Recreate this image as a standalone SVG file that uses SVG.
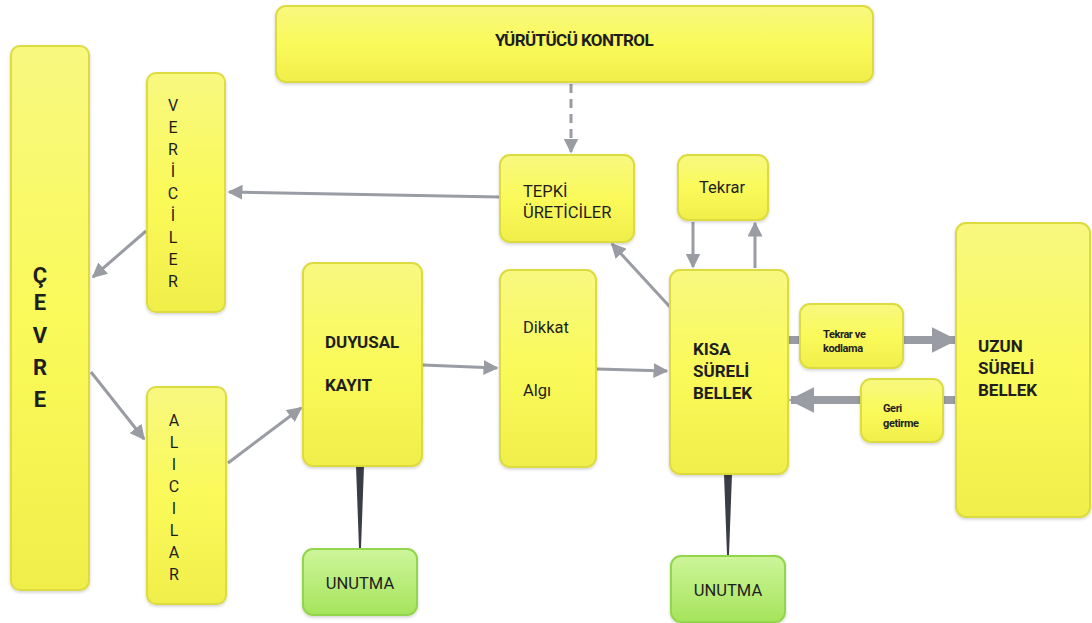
<svg xmlns="http://www.w3.org/2000/svg" width="1092" height="623" viewBox="0 0 1092 623">
<defs>
<linearGradient id="gy" x1="0" y1="0" x2="0" y2="1">
<stop offset="0" stop-color="#f8f880"/>
<stop offset="0.5" stop-color="#fafa5a"/>
<stop offset="1" stop-color="#f0ee4a"/>
</linearGradient>
<linearGradient id="gg" x1="0" y1="0" x2="0" y2="1">
<stop offset="0" stop-color="#cdf59a"/>
<stop offset="1" stop-color="#a6e45c"/>
</linearGradient>
<filter id="sh" x="-10%" y="-10%" width="120%" height="125%">
<feDropShadow dx="0" dy="1.5" stdDeviation="1.5" flood-color="#000" flood-opacity="0.18"/>
</filter>
<marker id="ah" viewBox="0 0 10 10" refX="9" refY="5" markerWidth="5" markerHeight="5" markerUnits="strokeWidth" orient="auto">
<path d="M0,0 L10,5 L0,10 z" fill="#9a9ca4"/>
</marker>
<marker id="ahb" viewBox="0 0 10 10" refX="9" refY="5" markerWidth="3.2" markerHeight="3.2" markerUnits="strokeWidth" orient="auto">
<path d="M0,0 L10,5 L0,10 z" fill="#9a9ca4"/>
</marker>
</defs>
<style>
.y{fill:url(#gy);stroke:#dcdc40;stroke-width:2;filter:url(#sh)}
.g{fill:url(#gg);stroke:#92d64c;stroke-width:2;filter:url(#sh)}
.t{font-family:Roboto,"Liberation Sans",sans-serif;fill:#1e1e1e;font-size:16.5px}
.l{font-size:16px}
.b{font-weight:bold;font-size:17px}
.s{font-size:11px;font-weight:bold;letter-spacing:-0.4px}
.c{text-anchor:middle}
.a{fill:none;stroke:#9a9ca4;stroke-width:3;marker-end:url(#ah)}
.ab{fill:none;stroke:#9a9ca4;stroke-width:8;marker-end:url(#ahb)}
.ln{fill:none;stroke:#9a9ca4;stroke-width:8}
</style>
<rect width="1092" height="623" fill="#ffffff"/>

<g id="connectors">
<path class="a" d="M571,84 L571,152" stroke-dasharray="9,6"/>
<path class="a" d="M500,197 L229,192"/>
<path class="a" d="M146,231 L93,277"/>
<path class="a" d="M91,372 L144,439"/>
<path class="a" d="M228,463 L301,408"/>
<path class="a" d="M423,365 L497,368"/>
<path class="a" d="M597,369 L667,371"/>
<path class="a" d="M670,307 L612,244"/>
<path class="a" d="M693,222 L693,267"/>
<path class="a" d="M755,268 L755,223"/>
<path class="ln" d="M788,340 L801,340"/>
<path class="ab" d="M903,340 L955,340"/>
<path class="ln" d="M957,400 L943,400"/>
<path class="ab" d="M861,400 L791,400"/>
<path d="M356,466 L364,466 L361,548 L359,548 z" fill="#3a3d45"/>
<path d="M724,474 L732,474 L729,555 L727,555 z" fill="#3a3d45"/>
</g>

<g id="cevre">
<rect class="y" x="11" y="46" width="78" height="544" rx="9"/>
<g class="t b c" style="font-size:22px">
<text x="40" y="283">Ç</text>
<text x="40" y="310">E</text>
<text x="40" y="343">V</text>
<text x="40" y="375">R</text>
<text x="40" y="407">E</text>
</g>
</g>

<g id="vericiler">
<rect class="y" x="147" y="73" width="78" height="239" rx="9"/>
<g class="t l c">
<text x="173" y="111">V</text>
<text x="173" y="133">E</text>
<text x="173" y="155">R</text>
<text x="173" y="177">İ</text>
<text x="173" y="199">C</text>
<text x="173" y="221">İ</text>
<text x="173" y="243">L</text>
<text x="173" y="265">E</text>
<text x="173" y="287">R</text>
</g>
</g>

<g id="alicilar">
<rect class="y" x="147" y="387" width="79" height="217" rx="9"/>
<g class="t l c">
<text x="174" y="426">A</text>
<text x="174" y="448">L</text>
<text x="174" y="470">I</text>
<text x="174" y="492">C</text>
<text x="174" y="514">I</text>
<text x="174" y="536">L</text>
<text x="174" y="558">A</text>
<text x="174" y="580">R</text>
</g>
</g>

<g id="yurutucu">
<rect class="y" x="276" y="6" width="597" height="76" rx="10"/>
<text class="t b c" x="574" y="46" style="font-size:17px;letter-spacing:-0.6px">YÜRÜTÜCÜ KONTROL</text>
</g>

<g id="tepki">
<rect class="y" x="500" y="155" width="134" height="87" rx="10"/>
<text class="t" x="523" y="197">TEPKİ</text>
<text class="t" x="523" y="218">ÜRETİCİLER</text>
</g>

<g id="tekrar">
<rect class="y" x="678" y="155" width="90" height="65" rx="10"/>
<text class="t c" x="722" y="193">Tekrar</text>
</g>

<g id="duyusal">
<rect class="y" x="303" y="263" width="119" height="203" rx="10"/>
<text class="t b" x="325" y="348">DUYUSAL</text>
<text class="t b" x="325" y="391">KAYIT</text>
</g>

<g id="dikkat">
<rect class="y" x="500" y="270" width="96" height="197" rx="10"/>
<text class="t" x="523" y="333">Dikkat</text>
<text class="t" x="523" y="396">Algı</text>
</g>

<g id="kisa">
<rect class="y" x="670" y="270" width="118" height="204" rx="10"/>
<text class="t b" x="693" y="355">KISA</text>
<text class="t b" x="693" y="377">SÜRELİ</text>
<text class="t b" x="693" y="399">BELLEK</text>
</g>

<g id="tekrarkod">
<rect class="y" x="800" y="304" width="103" height="64" rx="10"/>
<text class="t s" x="823" y="338">Tekrar ve</text>
<text class="t s" x="823" y="352">kodlama</text>
</g>

<g id="geri">
<rect class="y" x="861" y="379" width="82" height="63" rx="10"/>
<text class="t s" x="883" y="412">Geri</text>
<text class="t s" x="883" y="427">getirme</text>
</g>

<g id="uzun">
<rect class="y" x="956" y="223" width="134" height="294" rx="10"/>
<text class="t b" x="978" y="352">UZUN</text>
<text class="t b" x="978" y="374">SÜRELİ</text>
<text class="t b" x="978" y="396">BELLEK</text>
</g>

<g id="unutma1">
<rect class="g" x="303" y="549" width="114" height="66" rx="10"/>
<text class="t c" x="360" y="589">UNUTMA</text>
</g>

<g id="unutma2">
<rect class="g" x="671" y="556" width="114" height="66" rx="10"/>
<text class="t c" x="728" y="596">UNUTMA</text>
</g>
</svg>
